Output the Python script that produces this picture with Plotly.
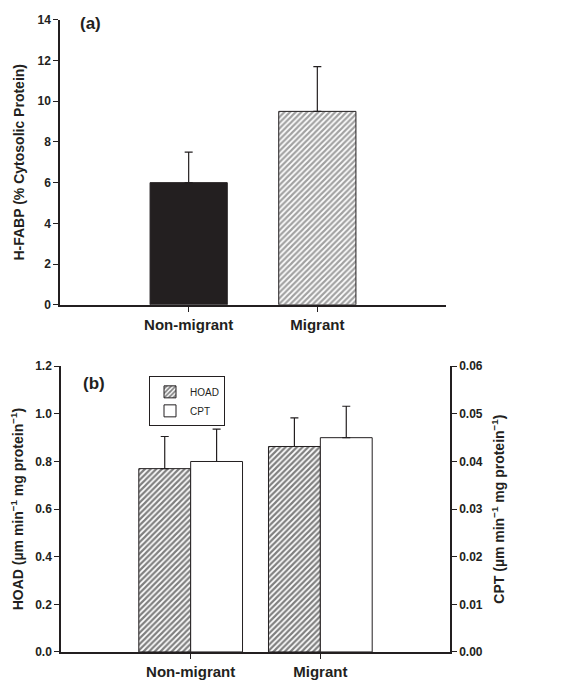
import plotly.graph_objects as go

# ---- data ----
groups = ["Non-migrant", "Migrant"]
hfabp = [6.0, 9.5]
hfabp_err = [1.5, 2.2]
hoad = [0.77, 0.863]
hoad_err = [0.135, 0.12]
cpt = [0.040, 0.045]
cpt_err = [0.0068, 0.0066]

a_ticks = [0, 2, 4, 6, 8, 10, 12, 14]
b_left_ticks = [0.0, 0.2, 0.4, 0.6, 0.8, 1.0, 1.2]
b_right_ticks = [0.00, 0.01, 0.02, 0.03, 0.04, 0.05, 0.06]

W, H = 565, 690
FONT = "Liberation Sans, Arial, sans-serif"
INK = "#231f20"

def px(x):
    return x / W

def py(y):
    return 1 - y / H

fig = go.Figure()

hatch = dict(shape="/", size=4, solidity=0.55, fgcolor="#000000", bgcolor="white")

# Panel (a)
fig.add_trace(go.Bar(
    x=[0, 1], y=hfabp,
    width=0.6,
    marker=dict(
        color=["#231f20", "white"],
        line=dict(color=INK, width=1),
        pattern=dict(shape=["", "/"], size=4, solidity=0.55, fgcolor="#000000", bgcolor="white"),
    ),
    error_y=dict(type="data", symmetric=False, array=hfabp_err, arrayminus=[0, 0],
                 color=INK, thickness=1.2, width=4),
    xaxis="x", yaxis="y", showlegend=False,
))

# Panel (b)
fig.add_trace(go.Bar(
    x=[0, 1], y=hoad, name="HOAD",
    width=0.4, offset=-0.4,
    marker=dict(color="white", line=dict(color=INK, width=1), pattern=hatch),
    error_y=dict(type="data", symmetric=False, array=hoad_err, arrayminus=[0, 0],
                 color=INK, thickness=1.2, width=4),
    xaxis="x2", yaxis="y2",
))
fig.add_trace(go.Bar(
    x=[0, 1], y=cpt, name="CPT",
    width=0.4, offset=0,
    marker=dict(color="white", line=dict(color=INK, width=1)),
    error_y=dict(type="data", symmetric=False, array=cpt_err, arrayminus=[0, 0],
                 color=INK, thickness=1.2, width=4),
    xaxis="x2", yaxis="y3",
))

tickfont = dict(family=FONT, size=12, color=INK)
catfont = dict(family=FONT, size=15, color=INK)
titlefont = dict(family=FONT, size=14, color=INK)

common_x = dict(
    range=[-1, 2], tickmode="array", tickvals=[0, 1],
    ticktext=["<b>%s</b>" % g for g in groups],
    showline=True, linecolor=INK, linewidth=1.5,
    ticks="outside", ticklen=5, tickcolor=INK, tickwidth=1,
    tickfont=catfont, showgrid=False, zeroline=False, fixedrange=True,
)

fig.update_layout(
    width=W, height=H,
    margin=dict(l=0, r=0, t=0, b=0),
    paper_bgcolor="white", plot_bgcolor="white",
    barmode="overlay",
    xaxis=dict(domain=[px(60), px(446)], anchor="y", **common_x),
    yaxis=dict(
        domain=[py(304), py(13)], anchor="x",
        range=[0, 14], tickmode="array", tickvals=a_ticks,
        ticktext=["<b>%d</b>" % t for t in a_ticks],
        showline=True, linecolor=INK, linewidth=1.5,
        ticks="outside", ticklen=5, tickcolor=INK, tickwidth=1,
        tickfont=tickfont, showgrid=False, zeroline=False,
        title=dict(text="<b>H-FABP (% Cytosolic Protein)</b>", font=titlefont, standoff=10),
    ),
    xaxis2=dict(domain=[px(61), px(450)], anchor="y2", **common_x),
    yaxis2=dict(
        domain=[py(658.3), py(366.7)], anchor="x2",
        range=[0, 1.2], tickmode="array", tickvals=b_left_ticks,
        ticktext=["<b>%.1f</b>" % t for t in b_left_ticks],
        showline=True, linecolor=INK, linewidth=1.5,
        ticks="outside", ticklen=5, tickcolor=INK, tickwidth=1,
        tickfont=tickfont, showgrid=False, zeroline=False,
        title=dict(text="<b>HOAD (µm min<sup>−1</sup> mg protein<sup>−1</sup>)</b>", font=titlefont, standoff=8),
    ),
    yaxis3=dict(
        overlaying="y2", side="right", anchor="x2",
        range=[0, 0.06], tickmode="array", tickvals=b_right_ticks,
        ticktext=["<b>%.2f</b>" % t for t in b_right_ticks],
        showline=True, linecolor=INK, linewidth=1.5,
        ticks="outside", ticklen=5, tickcolor=INK, tickwidth=1,
        tickfont=tickfont, showgrid=False, zeroline=False,
        title=dict(text="<b>CPT (µm min<sup>−1</sup> mg protein<sup>−1</sup>)</b>", font=titlefont, standoff=12),
    ),
    legend=dict(
        x=px(149), y=py(377), xanchor="left", yanchor="top",
        bgcolor="white", bordercolor=INK, borderwidth=1,
        font=dict(family=FONT, size=10, color=INK),
        tracegroupgap=0, itemwidth=30,
    ),
    annotations=[
        dict(text="<b>(a)</b>", x=px(78), y=py(17), xref="paper", yref="paper",
             xanchor="left", yanchor="middle", showarrow=False,
             font=dict(family=FONT, size=17, color=INK)),
        dict(text="<b>(b)</b>", x=px(81), y=py(384), xref="paper", yref="paper",
             xanchor="left", yanchor="middle", showarrow=False,
             font=dict(family=FONT, size=17, color=INK)),
    ],
)

fig.write_html("out.html")
